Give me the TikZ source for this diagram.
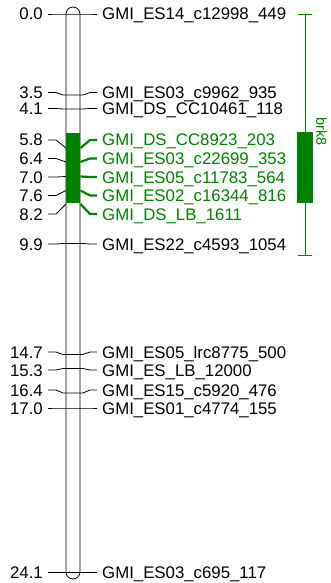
\documentclass[tikz,border=0pt]{standalone}
\usepackage{fontspec}
\setmainfont{Liberation Sans}
\definecolor{qtlgreen}{RGB}{0,128,0}
\begin{document}
\begin{tikzpicture}[x=1pt,y=-1pt,
  lab/.style={font=\fontsize{16.8}{18}\selectfont, inner ysep=0pt, inner xsep=5pt,
              text height=12pt, text depth=0pt},
  link/.style={draw=black, line width=0.8pt},
  glink/.style={draw=qtlgreen, line width=2.2pt},
  qtlline/.style={draw=qtlgreen, line width=0.9pt}]
  % canvas
  \fill[white] (0,0) rectangle (331,583);
  \useasboundingbox (0,0) rectangle (331,583);

  % chromosome body
  \node[draw, line width=0.8pt, fill=white, minimum width=14pt, minimum height=572pt,
        rounded corners=7pt, inner sep=0pt] (chrom) at (73,293) {};
  % QTL interval on the chromosome
  \node[fill=qtlgreen, minimum width=14.5pt, minimum height=70.3pt, inner sep=0pt]
        (qbar) at (73,168.15) {};

  % ordinary markers: cM / label y / map y / name
  \foreach \cm/\ly/\py/\nm [count=\i] in {
      0.0/14/14/GMI\_ES14\_c12998\_449,
      3.5/92.5/95/GMI\_ES03\_c9962\_935,
      4.1/108.5/109/GMI\_DS\_CC10461\_118,
      9.9/244/243.5/GMI\_ES22\_c4593\_1054,
      14.7/352/354.5/GMI\_ES05\_lrc8775\_500,
      15.3/370/368.5/GMI\_ES\_LB\_12000,
      16.4/390/393/GMI\_ES15\_c5920\_476,
      17.0/408/408/GMI\_ES01\_c4774\_155,
      24.1/572.5/572.5/GMI\_ES03\_c695\_117}{
    \node[lab, anchor=east] (L\i) at (48,\ly) {\cm};
    \node[lab, anchor=west] (R\i) at (97,\ly) {\nm};
    \coordinate (a\i) at (63,\py);
    \coordinate (b\i) at (83,\py);
    \draw[link] (L\i.east) -- ++(8,0) -- (a\i) -- (b\i) -- (90,\ly) -- (R\i.west);
  }

  % markers inside the QTL interval
  \foreach \cm/\ly/\py/\nm [count=\i] in {
      5.8/140/148/GMI\_DS\_CC8923\_203,
      6.4/158.5/162/GMI\_ES03\_c22699\_353,
      7.0/177/176.5/GMI\_ES05\_c11783\_564,
      7.6/195.5/190.5/GMI\_ES02\_c16344\_816,
      8.2/214/204/GMI\_DS\_LB\_1611}{
    \node[lab, anchor=east] (GL\i) at (48,\ly) {\cm};
    \node[lab, anchor=west, text=qtlgreen] (GR\i) at (97,\ly) {\nm};
    \coordinate (ga\i) at (66,\py);
    \coordinate (gb\i) at (80.5,\py);
    \draw[link] (GL\i.east) -- ++(8,0) -- (ga\i);
    \draw[glink] (gb\i) -- (90,\ly) -- (GR\i.west);
  }

  % QTL support interval at the right
  \coordinate (qt) at (305,14);
  \coordinate (qb) at (305,255);
  \draw[qtlline] (qt) -- (qb);
  \draw[qtlline] ([xshift=-7pt]qt) -- ([xshift=7pt]qt);
  \draw[qtlline] ([xshift=-7pt]qb) -- ([xshift=7pt]qb);
  \node[fill=qtlgreen, minimum width=15.5pt, minimum height=71pt, inner sep=0pt]
        (qbox) at (305.2,167.7) {};
  \node[text=qtlgreen, font=\fontsize{14.4}{15}\selectfont, rotate=-90, inner sep=0pt]
        (qname) at (321.5,131.5) {brk8};
\end{tikzpicture}
\end{document}
